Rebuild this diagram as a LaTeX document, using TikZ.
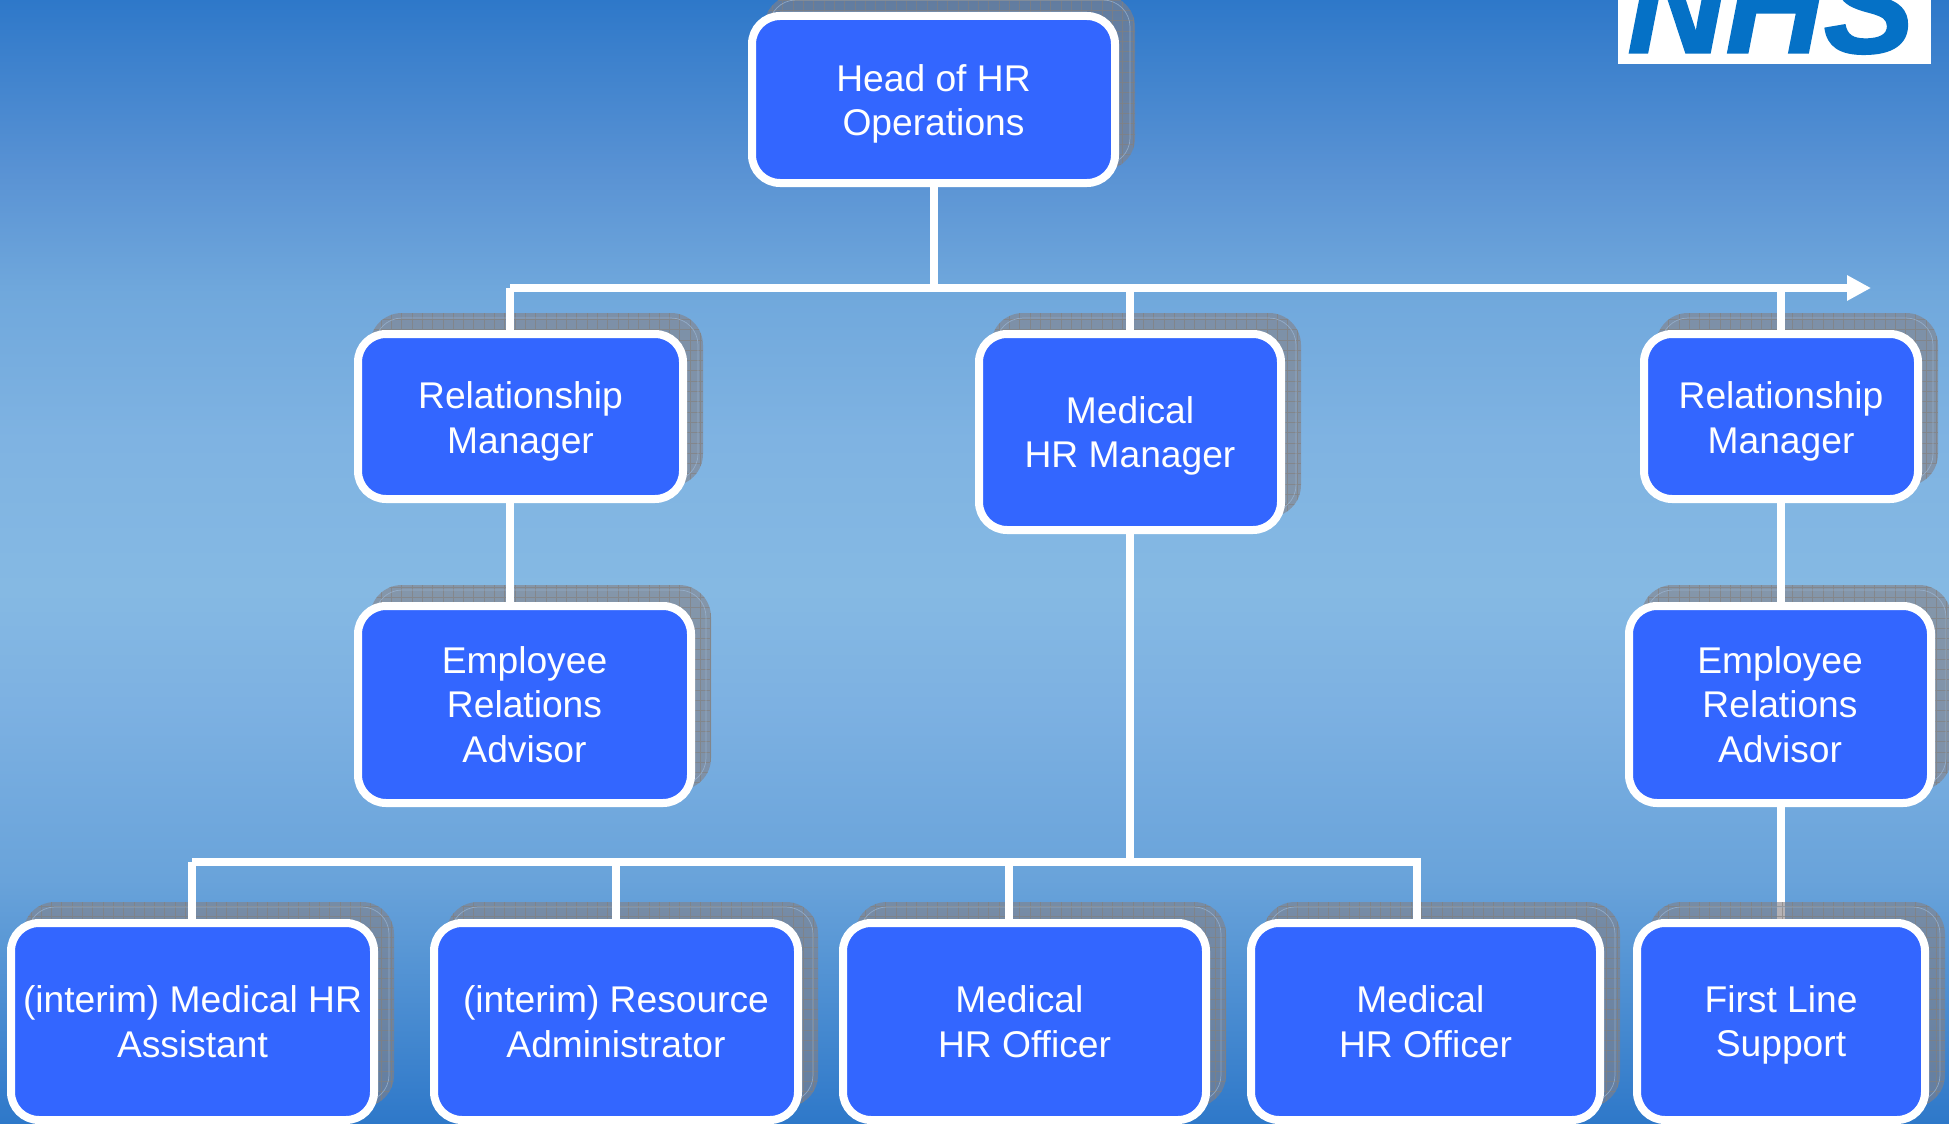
\documentclass[tikz,border=0pt]{standalone}
\usepackage{fontspec}
\setmainfont{Liberation Sans}
\usetikzlibrary{arrows.meta}
\definecolor{bgedge}{HTML}{2E78C9}
\definecolor{bgmid}{HTML}{85B9E3}
\definecolor{bgA}{HTML}{5A93D4}
\definecolor{bgB}{HTML}{70A8DC}
\definecolor{bgC}{HTML}{7FB3E2}
\definecolor{bgD}{HTML}{7DB1E2}
\definecolor{bgE}{HTML}{69A3DA}
\definecolor{boxblue}{HTML}{3366FF}
\definecolor{shadowgrey}{HTML}{848085}
\definecolor{gridgrey}{HTML}{84807C}
\definecolor{shadowline}{HTML}{9DB8D6}
\definecolor{nhsblue}{HTML}{0571C6}
\pgfdeclareverticalshading{slidebg}{100bp}{color(0bp)=(bgedge); color(25bp)=(bgedge); color(35.85bp)=(bgE); color(43.68bp)=(bgD); color(48.75bp)=(bgmid); color(55.43bp)=(bgC); color(61.97bp)=(bgB); color(67.17bp)=(bgA); color(75bp)=(bgedge); color(100bp)=(bgedge)}
\pgfdeclarelayer{bglayer}
\pgfdeclarelayer{shadowlayer}
\pgfdeclarelayer{connlayer}
\pgfsetlayers{bglayer,shadowlayer,connlayer,main}
\newcommand{\downstrut}[1]{\rule{0pt}{#1pt}}
\tikzset{
  orgbox/.style={draw=white,line width=8pt,fill=boxblue,rounded corners=28pt,text=white,
    align=center,inner sep=0pt,font=\fontsize{37.2}{44.6}\selectfont},
  shadowbox/.style={fill=shadowgrey,fill opacity=.6,rounded corners=32pt,
    path picture={\draw[gridgrey,line width=.7pt,opacity=.65] (path picture bounding box.south west) grid[step=10.3pt] (path picture bounding box.north east);}},
  shadowedge/.style={draw=shadowline,line width=.7pt,rounded corners=27pt,opacity=.7},
  link/.style={draw=white,line width=8pt},
  linkarrow/.style={link,-{Triangle[length=24pt,width=24pt]}}
}
\begin{document}
\begin{tikzpicture}[x=1pt,y=-1pt]
\useasboundingbox (0,0) rectangle (1949,1124);
\begin{pgfonlayer}{bglayer}
  \shade[shading=slidebg] (0,0) rectangle (1949,1124);
\end{pgfonlayer}

\node[draw=none,fill=white,minimum width=313pt,minimum height=64pt,inner sep=0pt,anchor=north west] (logobox) at (1618,0) {};
\node[anchor=base,inner sep=0pt,text=nhsblue,font=\fontsize{136}{136}\bfseries\itshape\selectfont\addfontfeature{FakeBold=1.5}] (logo) at (1771,52.7) {NHS};

\node[orgbox,minimum width=363pt,minimum height=167pt] (hr) at (933.5,99.5) {\downstrut{35.6}Head of HR\\Operations};
\node[orgbox,minimum width=325pt,minimum height=165pt] (rel1) at (520.5,416.5) {\downstrut{36.8}Relationship\\Manager};
\node[orgbox,minimum width=302pt,minimum height=196pt] (med) at (1130,432) {\downstrut{34.8}Medical\\HR Manager};
\node[orgbox,minimum width=274pt,minimum height=165pt] (rel2) at (1781,416.5) {\downstrut{36.8}Relationship\\Manager};
\node[orgbox,minimum width=333pt,minimum height=197pt] (era1) at (524.5,704.5) {Employee\\Relations\\Advisor};
\node[orgbox,minimum width=302pt,minimum height=197pt] (era2) at (1780,704.5) {Employee\\Relations\\Advisor};
\node[orgbox,minimum width=363pt,minimum height=197pt] (b1) at (192.5,1021.5) {(interim) Medical HR\\Assistant};
\node[orgbox,minimum width=364pt,minimum height=197pt] (b2) at (616,1021.5) {(interim) Resource\\Administrator};
\node[orgbox,minimum width=363pt,minimum height=197pt] (b3) at (1024.5,1021.5) {Medical\hspace*{10.3pt}\\HR Officer};
\node[orgbox,minimum width=349pt,minimum height=197pt] (b4) at (1425.5,1021.5) {Medical\hspace*{10.3pt}\\HR Officer};
\node[orgbox,minimum width=288pt,minimum height=197pt] (b5) at (1781,1021.5) {\downstrut{33.5}First Line\\Support};

\begin{pgfonlayer}{shadowlayer}
\foreach \n in {hr,rel1,med,rel2,era1,era2,b1,b2,b3,b4,b5}{
  \path[shadowbox] ([xshift=16pt,yshift=17pt]\n.south west) rectangle ([xshift=16pt,yshift=17pt]\n.north east);
  \path[shadowedge] ([xshift=21pt,yshift=22pt]\n.south west) rectangle ([xshift=11pt,yshift=12pt]\n.north east);
}
\end{pgfonlayer}

\coordinate (trunkL) at (510,288);
\coordinate (trunkR) at (1871,288);
\coordinate (busL) at (192,862);
\coordinate (busB) at (616,862);
\coordinate (busC) at (1009,862);
\coordinate (busR) at (1417,862);

\begin{pgfonlayer}{bglayer}
  \draw[link] (era2.south -| b5.north) -- (b5.north);
\end{pgfonlayer}
\begin{pgfonlayer}{connlayer}
  \draw[link] (hr.south) -- (hr.south |- trunkL);
  \draw[linkarrow] (trunkL) -- (trunkR);
  \draw[link] (trunkL) -- (trunkL |- rel1.north);
  \draw[link] (med.north) -- (med.north |- trunkL);
  \draw[link] (rel2.north) -- (rel2.north |- trunkL);
  \draw[link] (rel1.south -| trunkL) -- (era1.north -| trunkL);
  \draw[link] (rel2.south) -- (era2.north -| rel2.south);
  \draw[link] (med.south) -- (med.south |- busL);
  \draw[link] (busL) -- ([xshift=4pt]busR);
  \draw[link] (busL) -- (busL |- b1.north);
  \draw[link] (busB) -- (busB |- b2.north);
  \draw[link] (busC) -- (busC |- b3.north);
  \draw[link] (busR) -- (busR |- b4.north);
\end{pgfonlayer}
\end{tikzpicture}
\end{document}
